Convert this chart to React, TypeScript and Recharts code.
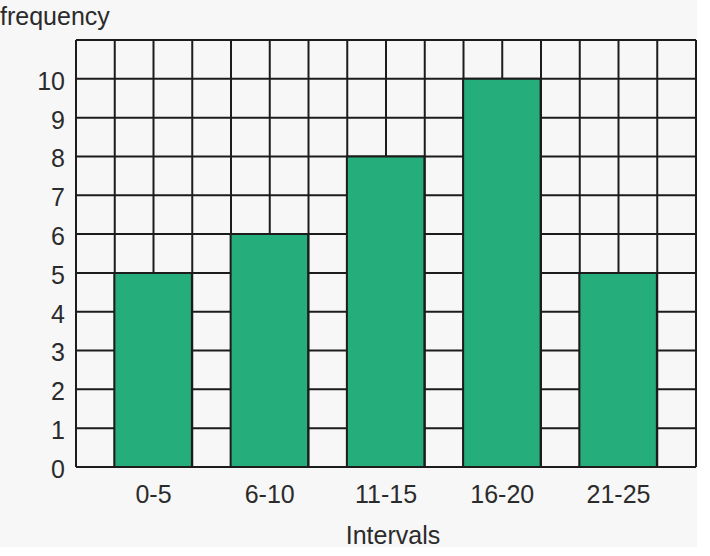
import { BarChart, Bar, XAxis, YAxis, CartesianGrid } from 'recharts';

const intervals = ['0-5', '6-10', '11-15', '16-20', '21-25'];
const frequencies = [5, 6, 8, 10, 5];
const yTicks = [0, 1, 2, 3, 4, 5, 6, 7, 8, 9, 10, 11];
const gridColumns = [0, 1, 2, 3, 4, 5, 6, 7, 8, 9, 10, 11, 12, 13, 14, 15, 16];

const data = intervals.map((name, i) => ({ name, frequency: frequencies[i] }));

const font = 'Liberation Sans, Arial, Helvetica, sans-serif';
const textColor = '#2b2b2b';
const lineColor = '#1c1c1c';

// vertical lines every column of the squared paper
const columnLines = (props: any) => {
  const { xAxis, offset } = props;
  if (xAxis && typeof xAxis.scale === 'function') {
    return gridColumns.map((c) => xAxis.scale(c));
  }
  const last = gridColumns[gridColumns.length - 1];
  return gridColumns.map((c) => offset.left + (c / last) * offset.width);
};

export default function App() {
  return (
    <div style={{ position: 'absolute', left: 0, top: 0, width: 697, height: 547, background: '#f7f7f7', fontFamily: font }}>
      <div style={{ position: 'absolute', left: 0, top: 1, fontSize: 25, color: textColor, lineHeight: '30px' }}>
        frequency
      </div>
      <BarChart
        width={697}
        height={556}
        data={data}
        margin={{ top: 40, right: 1, bottom: 9, left: 0 }}
        style={{ position: 'absolute', left: 0, top: 0 }}
      >
        <CartesianGrid
          xAxisId="grid"
          stroke={lineColor}
          strokeWidth={2}
          fill="#f7f7f7"
          verticalCoordinatesGenerator={columnLines}
        />
        <XAxis
          xAxisId="grid"
          type="number"
          domain={[0, 16]}
          ticks={gridColumns}
          tickCount={17}
          interval={0}
          allowDataOverflow
          hide
        />
        <XAxis
          dataKey="name"
          height={80}
          padding={{ left: 19.375, right: 19.375 }}
          tickLine={false}
          axisLine={false}
          tickSize={0}
          tickMargin={18}
          tick={{ fontSize: 25, fill: textColor, fontFamily: font }}
          label={{ value: 'Intervals', position: 'insideBottom', offset: 3, dx: 7, fontSize: 25, fill: textColor, fontFamily: font }}
        />
        <YAxis
          width={76}
          domain={[0, 11]}
          ticks={yTicks}
          interval={0}
          tickLine={false}
          axisLine={false}
          tickSize={0}
          tickMargin={11}
          tickFormatter={(v: number) => (v === 11 ? '' : String(v))}
          tick={{ fontSize: 25, fill: textColor, fontFamily: font, dy: 2 }}
        />
        <Bar
          dataKey="frequency"
          fill="#25ad7b"
          stroke={lineColor}
          strokeWidth={2}
          barSize={77.5}
          isAnimationActive={false}
        />
      </BarChart>
    </div>
  );
}
